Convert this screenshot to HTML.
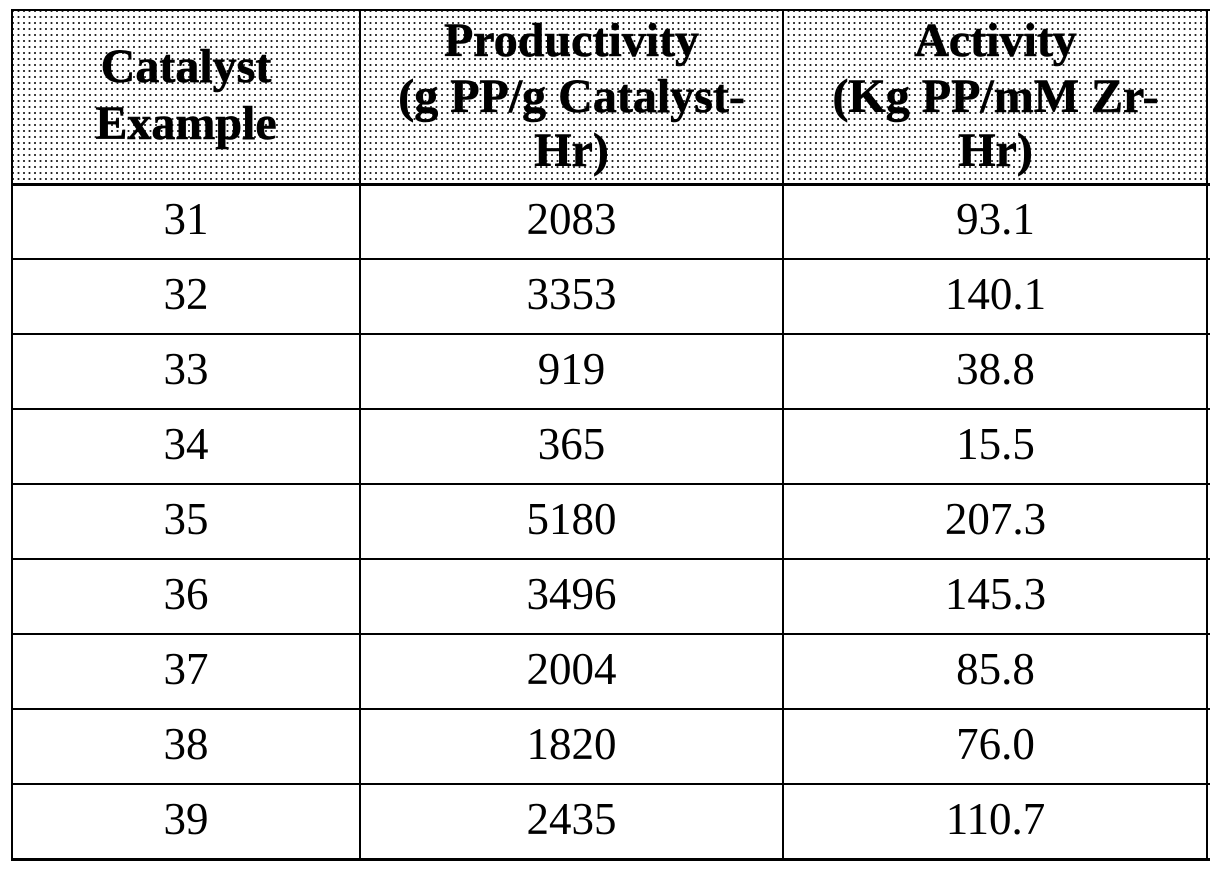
<!DOCTYPE html>
<html><head><meta charset="utf-8"><style>
html,body{margin:0;padding:0;background:#fff;}
body{width:1220px;height:874px;position:relative;overflow:hidden;font-family:"Liberation Serif","Times New Roman",serif;color:#000;}
.hdr{position:absolute;left:12px;top:10px;width:1196px;height:174px;background-color:#fff;
background-image:radial-gradient(circle at 1px 1px,#222 0.85px,transparent 1.25px);background-size:5.5px 6px;}
.h{position:absolute;height:2px;background:#000;}
.v{position:absolute;width:2px;background:#000;}
.t{position:absolute;text-align:center;white-space:nowrap;}
.hb{font-weight:bold;font-size:48px;line-height:55px;height:55px;-webkit-text-stroke:0.6px #000;}
.b{font-size:45px;line-height:75px;height:75px;}
</style></head><body>
<div class="hdr"></div>
<!-- header text -->
<div class="t hb" style="left:12px;width:348px;top:39px;">Catalyst</div>
<div class="t hb" style="left:12px;width:348px;top:96px;">Example</div>
<div class="t hb" style="left:360px;width:423px;top:13px;">Productivity</div>
<div class="t hb" style="left:360px;width:423px;top:69px;">(g PP/g Catalyst-</div>
<div class="t hb" style="left:360px;width:423px;top:123px;">Hr)</div>
<div class="t hb" style="left:783px;width:425px;top:13px;">Activity</div>
<div class="t hb" style="left:783px;width:425px;top:69px;">(Kg PP/mM Zr-</div>
<div class="t hb" style="left:783px;width:425px;top:123px;">Hr)</div>
<!-- body rows -->
<div class="t b" style="left:12px;width:348px;top:182px;">31</div>
<div class="t b" style="left:360px;width:423px;top:182px;">2083</div>
<div class="t b" style="left:783px;width:425px;top:182px;">93.1</div>
<div class="t b" style="left:12px;width:348px;top:257px;">32</div>
<div class="t b" style="left:360px;width:423px;top:257px;">3353</div>
<div class="t b" style="left:783px;width:425px;top:257px;">140.1</div>
<div class="t b" style="left:12px;width:348px;top:332px;">33</div>
<div class="t b" style="left:360px;width:423px;top:332px;">919</div>
<div class="t b" style="left:783px;width:425px;top:332px;">38.8</div>
<div class="t b" style="left:12px;width:348px;top:407px;">34</div>
<div class="t b" style="left:360px;width:423px;top:407px;">365</div>
<div class="t b" style="left:783px;width:425px;top:407px;">15.5</div>
<div class="t b" style="left:12px;width:348px;top:482px;">35</div>
<div class="t b" style="left:360px;width:423px;top:482px;">5180</div>
<div class="t b" style="left:783px;width:425px;top:482px;">207.3</div>
<div class="t b" style="left:12px;width:348px;top:557px;">36</div>
<div class="t b" style="left:360px;width:423px;top:557px;">3496</div>
<div class="t b" style="left:783px;width:425px;top:557px;">145.3</div>
<div class="t b" style="left:12px;width:348px;top:632px;">37</div>
<div class="t b" style="left:360px;width:423px;top:632px;">2004</div>
<div class="t b" style="left:783px;width:425px;top:632px;">85.8</div>
<div class="t b" style="left:12px;width:348px;top:707px;">38</div>
<div class="t b" style="left:360px;width:423px;top:707px;">1820</div>
<div class="t b" style="left:783px;width:425px;top:707px;">76.0</div>
<div class="t b" style="left:12px;width:348px;top:782px;">39</div>
<div class="t b" style="left:360px;width:423px;top:782px;">2435</div>
<div class="t b" style="left:783px;width:425px;top:782px;">110.7</div>
<!-- lines -->
<div class="h" style="left:11px;width:1199px;top:9px;"></div>
<div class="h" style="left:11px;width:1199px;top:183px;height:3px;"></div>
<div class="h" style="left:11px;width:1199px;top:258px;"></div>
<div class="h" style="left:11px;width:1199px;top:333px;"></div>
<div class="h" style="left:11px;width:1199px;top:408px;"></div>
<div class="h" style="left:11px;width:1199px;top:483px;"></div>
<div class="h" style="left:11px;width:1199px;top:558px;"></div>
<div class="h" style="left:11px;width:1199px;top:633px;"></div>
<div class="h" style="left:11px;width:1199px;top:708px;"></div>
<div class="h" style="left:11px;width:1199px;top:783px;"></div>
<div class="h" style="left:11px;width:1199px;top:858px;height:3px;"></div>
<div class="v" style="left:11px;top:9px;height:852px;"></div>
<div class="v" style="left:359px;top:9px;height:852px;"></div>
<div class="v" style="left:782px;top:9px;height:852px;"></div>
<div class="v" style="left:1206px;top:9px;height:852px;"></div>
</body></html>
